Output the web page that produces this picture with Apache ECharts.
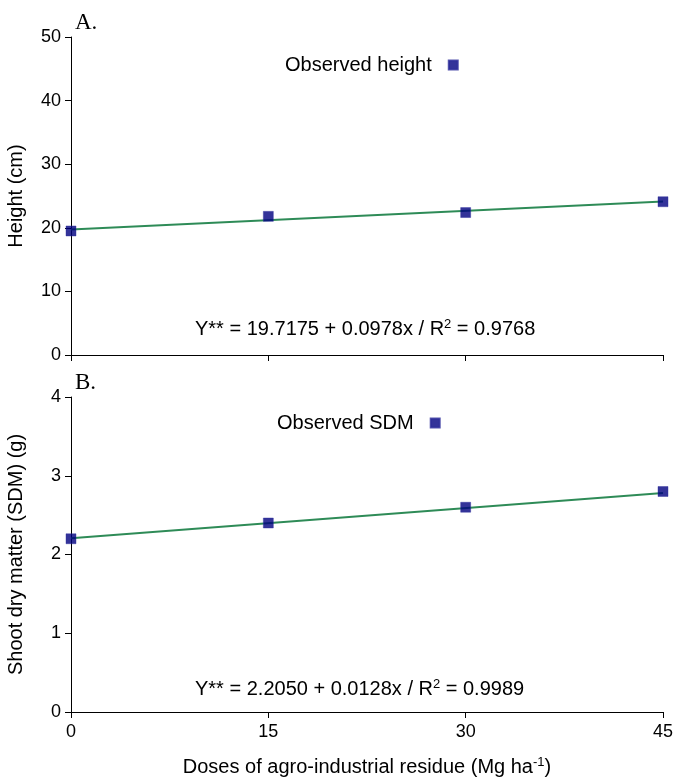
<!DOCTYPE html>
<html><head><meta charset="utf-8">
<script src="https://cdn.jsdelivr.net/npm/echarts@6/dist/echarts.min.js"></script>
<style>html,body{margin:0;padding:0;background:#fff}#c{width:674px;height:778px}</style>
</head><body><div id="c"></div>
<script>
const doses = [0, 15, 30, 45];
const heightObs = [19.5, 21.8, 22.4, 24.1];
const sdmObs = [2.2, 2.4, 2.6, 2.8];
const heightTrendX = [0, 45];
const heightTrendY = [19.7175, 24.1185];
const sdmTrendX = [0, 45];
const sdmTrendY = [2.205, 2.781];
const heightTicks = [0, 10, 20, 30, 40, 50];
const sdmTicks = [0, 1, 2, 3, 4];

const F = '"Liberation Sans", Arial, sans-serif';
const chart = echarts.init(document.getElementById('c'));
const axisLine = {lineStyle: {color: '#000', width: 1}};
const pairs = (xs, ys) => xs.map((x, i) => [x, ys[i]]);
const eqRich = {n: {fontFamily: F, fontSize: 20, fontWeight: 'normal', color: '#000'},
  s: {fontFamily: F, fontSize: 13, fontWeight: 'normal', color: '#000', verticalAlign: 'top', padding: [0,0,10,0]}};
const markStyle = {color: '#000080', borderColor: '#2a2a9a', borderWidth: 0.5};

chart.setOption({
  animation: false,
  grid: [
    {left: 71, top: 37, width: 592, height: 318, outerBoundsMode: 'none', containLabel: false},
    {left: 71, top: 397, width: 592, height: 315, outerBoundsMode: 'none', containLabel: false}
  ],
  xAxis: [
    {gridIndex: 0, type: 'value', min: 0, max: 45, interval: 15,
     axisLine: axisLine, axisTick: {show: true, length: 6, lineStyle: {color: '#000'}},
     axisLabel: {show: false}, splitLine: {show: false}},
    {gridIndex: 1, type: 'value', min: 0, max: 45, interval: 15,
     axisLine: axisLine, axisTick: {show: true, length: 6, lineStyle: {color: '#000'}},
     axisLabel: {show: true, fontFamily: F, fontSize: 18, color: '#000', margin: 11},
     splitLine: {show: false},
     name: '{n|Doses of agro-industrial residue (Mg ha}{s|-1}{n|)}',
     nameLocation: 'middle', nameGap: 44,
     nameTextStyle: {rich: {n: {fontFamily: F, fontSize: 20, color: '#000'},
       s: {fontFamily: F, fontSize: 13, color: '#000', verticalAlign: 'top', padding: [0,0,9,0]}}}}
  ],
  yAxis: [
    {gridIndex: 0, type: 'value', min: heightTicks[0], max: heightTicks[heightTicks.length-1], interval: 10,
     axisLine: {show: true, lineStyle: {color: '#000'}}, axisTick: {show: true, length: 6, lineStyle: {color: '#000'}},
     axisLabel: {fontFamily: F, fontSize: 18, color: '#000', margin: 10}, splitLine: {show: false},
     name: 'Height (cm)', nameLocation: 'middle', nameGap: 45,
     nameTextStyle: {fontFamily: F, fontSize: 20, color: '#000'}},
    {gridIndex: 1, type: 'value', min: sdmTicks[0], max: sdmTicks[sdmTicks.length-1], interval: 1,
     axisLine: {show: true, lineStyle: {color: '#000'}}, axisTick: {show: true, length: 6, lineStyle: {color: '#000'}},
     axisLabel: {fontFamily: F, fontSize: 18, color: '#000', margin: 10}, splitLine: {show: false},
     name: 'Shoot dry matter (SDM) (g)', nameLocation: 'middle', nameGap: 45,
     nameTextStyle: {fontFamily: F, fontSize: 20, color: '#000'}}
  ],
  legend: [
    {data: ['Observed height'], left: 280, top: 50, align: 'right', icon: 'rect',
     itemWidth: 9, itemHeight: 9,
     textStyle: {fontFamily: F, fontSize: 20, color: '#000', padding: [0, 12, 0, 0]}},
    {data: ['Observed SDM'], left: 272, top: 408, align: 'right', icon: 'rect',
     itemWidth: 9, itemHeight: 9,
     textStyle: {fontFamily: F, fontSize: 20, color: '#000', padding: [0, 12, 0, 0]}}
  ],
  title: [
    {text: 'A.', left: 70, top: 6, textStyle: {fontFamily: '"Liberation Serif", serif', fontSize: 23, fontWeight: 'normal', color: '#000'}},
    {text: 'B.', left: 70, top: 366, textStyle: {fontFamily: '"Liberation Serif", serif', fontSize: 23, fontWeight: 'normal', color: '#000'}},
    {text: '{n|Y** = 19.7175 + 0.0978x / R}{s|2}{n| = 0.9768}', left: 190, top: 313, textStyle: {rich: eqRich}},
    {text: '{n|Y** = 2.2050 + 0.0128x / R}{s|2}{n| = 0.9989}', left: 190, top: 673, textStyle: {rich: eqRich}}
  ],
  series: [
    {name: 'Height trend', type: 'line', xAxisIndex: 0, yAxisIndex: 0, data: pairs(heightTrendX, heightTrendY),
     showSymbol: false, lineStyle: {color: '#2e8b57', width: 2}, z: 2},
    {name: 'Observed height', type: 'scatter', xAxisIndex: 0, yAxisIndex: 0, data: pairs(doses, heightObs),
     symbol: 'rect', symbolSize: 10, itemStyle: markStyle, z: 3},
    {name: 'SDM trend', type: 'line', xAxisIndex: 1, yAxisIndex: 1, data: pairs(sdmTrendX, sdmTrendY),
     showSymbol: false, lineStyle: {color: '#2e8b57', width: 2}, z: 2},
    {name: 'Observed SDM', type: 'scatter', xAxisIndex: 1, yAxisIndex: 1, data: pairs(doses, sdmObs),
     symbol: 'rect', symbolSize: 10, itemStyle: markStyle, z: 3}
  ]
});
</script></body></html>
